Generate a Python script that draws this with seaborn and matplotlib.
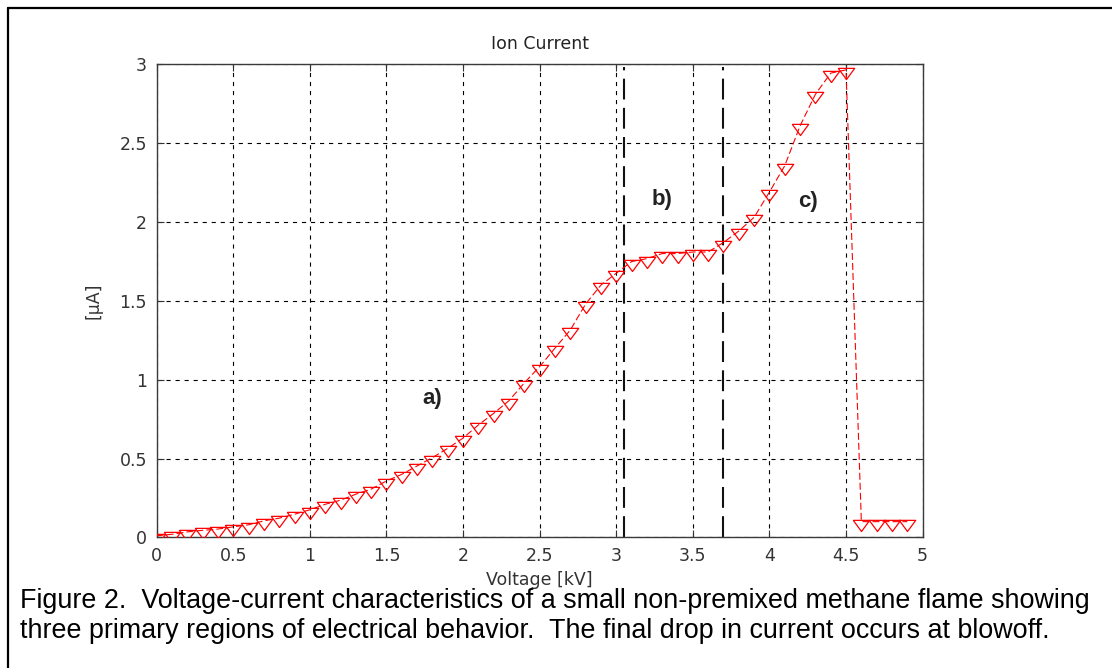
import numpy as np
import pandas as pd
import matplotlib
matplotlib.use('Agg')
import matplotlib.pyplot as plt
from matplotlib.lines import Line2D
import seaborn as sns

voltage = [0.0, 0.1, 0.2, 0.3, 0.4, 0.5, 0.6, 0.7, 0.8, 0.9,
           1.0, 1.1, 1.2, 1.3, 1.4, 1.5, 1.6, 1.7, 1.8, 1.9,
           2.0, 2.1, 2.2, 2.3, 2.4, 2.5, 2.6, 2.7, 2.8, 2.9,
           3.0, 3.1, 3.2, 3.3, 3.4, 3.5, 3.6, 3.7, 3.8, 3.9,
           4.0, 4.1, 4.2, 4.3, 4.4, 4.5, 4.6, 4.7, 4.8, 4.9]
current = [0.01, 0.02, 0.035, 0.045, 0.053, 0.067, 0.08, 0.105, 0.122, 0.147,
           0.175, 0.21, 0.236, 0.274, 0.306, 0.358, 0.40, 0.453, 0.506, 0.565,
           0.63, 0.713, 0.787, 0.867, 0.98, 1.083, 1.20, 1.315, 1.48, 1.60,
           1.675, 1.749, 1.768, 1.80, 1.80, 1.81, 1.81, 1.87, 1.943, 2.03,
           2.19, 2.357, 2.61, 2.81, 2.944, 2.965, 0.10, 0.10, 0.10, 0.10]

# region boundaries and labels
region_bounds = [3.05, 3.7]
region_labels = ['a)', 'b)', 'c)']
label_x = [1.80, 3.30, 4.25]
label_y = [0.88, 2.145, 2.13]

caption = ["Figure 2.  Voltage-current characteristics of a small non-premixed methane flame showing",
           "three primary regions of electrical behavior.  The final drop in current occurs at blowoff."]

df = pd.DataFrame({'Voltage': voltage, 'Current': current})

sns.set_style('white')
plt.rcParams['font.family'] = ['DejaVu Sans']
plt.rcParams['lines.scale_dashes'] = False

fig = plt.figure(figsize=(11.12, 6.68), dpi=100)
ax = fig.add_axes([0.1409, 0.1955, 0.6888, 0.7082])

# downward triangle hanging below the data point, like the matlab marker
tri = [(-1, 0.26), (1, 0.26), (0, -1.1), (-1, 0.26)]

sns.lineplot(data=df, x='Voltage', y='Current', ax=ax, sort=False, estimator=None,
             color='red', linestyle=(0, (5, 2.2)), linewidth=0.8,
             marker=tri, markersize=13, markerfacecolor='none',
             markeredgecolor='red', markeredgewidth=0.9, zorder=3)

for xb in region_bounds:
    ax.plot([xb, xb], [0, 2.98], color='#111111', linewidth=1.5,
            linestyle=(0, (15, 6)), zorder=2)

for lab, lx, ly in zip(region_labels, label_x, label_y):
    ax.text(lx, ly, lab, fontsize=16, fontweight='bold', ha='center', va='center',
            color='#222222', family='Liberation Sans')

ax.set_xlim(0, 5)
ax.set_ylim(0, 3)
ax.set_xticks(np.arange(0, 5.01, 0.5))
ax.set_yticks(np.arange(0, 3.01, 0.5))
ax.set_xticklabels(['0', '0.5', '1', '1.5', '2', '2.5', '3', '3.5', '4', '4.5', '5'])
ax.set_yticklabels(['0', '0.5', '1', '1.5', '2', '2.5', '3'])
ax.grid(True, color='black', linewidth=0.8, linestyle=(0, (3, 3.5)))
ax.tick_params(direction='in', length=5, width=0.8, color='#333333',
               labelsize=12.5, labelcolor='#333333', pad=7,
               top=True, right=True, bottom=True, left=True)
for sp in ax.spines.values():
    sp.set_color('#3a3a3a')
    sp.set_linewidth(1.0)

ax.set_title('Ion Current', fontsize=12.5, color='#222222', pad=11)
ax.set_xlabel('Voltage [kV]', fontsize=12.5, color='#333333', labelpad=4)
ax.set_ylabel('[\u03bcA]', fontsize=12.5, color='#333333', labelpad=12)

# frame lines of the original figure box (top and left only)
fig.add_artist(Line2D([8 / 1112, 1.0], [1 - 8 / 668, 1 - 8 / 668],
                      transform=fig.transFigure, color='black', linewidth=1.6))
fig.add_artist(Line2D([8 / 1112, 8 / 1112], [0.0, 1 - 8 / 668],
                      transform=fig.transFigure, color='black', linewidth=1.6))

fig.text(20 / 1112, 1 - 601 / 668, caption[0], fontsize=19.4, va='center', ha='left',
         family='Liberation Sans', color='black')
fig.text(20 / 1112, 1 - 631 / 668, caption[1], fontsize=19.4, va='center', ha='left',
         family='Liberation Sans', color='black')

fig.savefig('out.png', dpi=100)
